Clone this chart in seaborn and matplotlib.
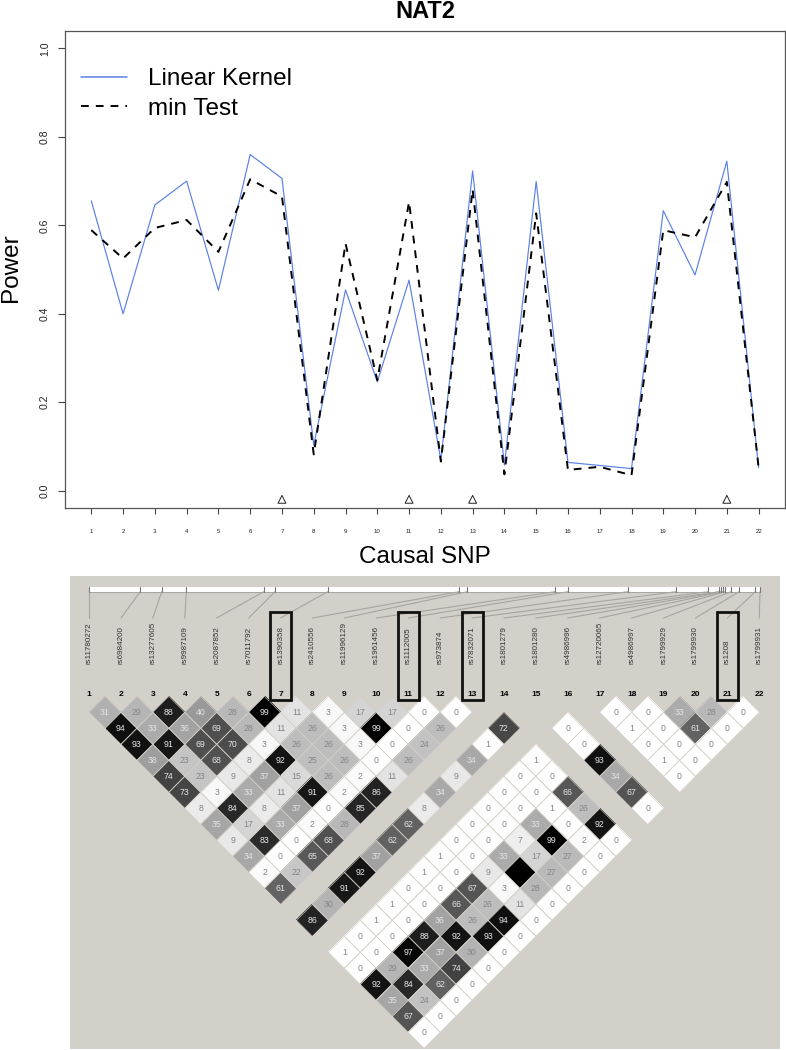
import matplotlib
matplotlib.use('Agg')
import matplotlib.pyplot as plt
from matplotlib.patches import Rectangle
from matplotlib.transforms import Affine2D
import seaborn as sns
import numpy as np

snp_index = list(range(1, 23))
linear_kernel = [0.655, 0.400, 0.646, 0.700, 0.453, 0.760, 0.706, 0.103, 0.454, 0.246, 0.476,
                 0.069, 0.723, 0.058, 0.699, 0.064, 0.057, 0.050, 0.633, 0.488, 0.745, 0.052]
min_test = [0.589, 0.525, 0.594, 0.612, 0.540, 0.704, 0.665, 0.082, 0.559, 0.250, 0.653,
            0.066, 0.681, 0.037, 0.627, 0.047, 0.054, 0.035, 0.589, 0.573, 0.698, 0.052]
marked_snps = [7, 11, 13, 21]
marker_power = [-0.0195, -0.0195, -0.0195, -0.0195]

rs_ids = ['rs11780272', 'rs6984200', 'rs13277605', 'rs9987109', 'rs2087852', 'rs7011792',
          'rs1390358', 'rs2410556', 'rs11996129', 'rs1961456', 'rs1112005', 'rs973874',
          'rs7832071', 'rs1801279', 'rs1801280', 'rs4986996', 'rs12720065', 'rs4986997',
          'rs1799929', 'rs1799930', 'rs1208', 'rs1799931']
# where each snp sits on the physical map strip (pixels along the strip)
map_ticks = [89, 140.3, 161.7, 186.3, 263.7, 275, 327.7, 459, 467.3, 555, 568, 627.7, 676, 708.3,
             719, 721, 723, 725.3, 731, 739, 755.3, 760]

# r2 values by distance between the snp pair, None = no cell. 100 = the black cell without a number
N = None
ld_d1 = [31, 29, 88, 40, 28, 99, 11, 3, 17, 17, 0, 0, N, N, N, N, 0, 0, 33, 28, 0]
ld_d2 = [94, 33, 36, 69, 28, 11, 26, 3, 99, 0, 26, N, 72, N, 0, N, 1, 0, 61, 0]
ld_d3 = [93, 91, 69, 70, 3, 26, 26, 3, 0, 24, N, 1, N, N, 0, N, 0, 0, 0]
ld_d4 = [38, 23, 68, 8, 92, 25, 26, 0, 26, N, 34, N, 1, N, 93, N, 1, 0]
ld_d5 = [74, 23, 9, 37, 15, 26, 2, 11, N, 9, N, 0, 0, N, 34, N, 0]
ld_d6 = [73, 3, 33, 11, 91, 2, 86, N, 34, N, 0, 0, 66, N, 67, N]
ld_d7 = [8, 84, 8, 37, 0, 85, N, 8, N, 0, 0, 1, 26, N, 0]
ld_d8 = [35, 17, 33, 2, 28, N, 62, N, 0, 0, 33, 0, 92, N]
ld_d9 = [9, 83, 0, 68, N, 62, N, 0, 0, 7, 99, 2, 0]
ld_d10 = [34, 0, 65, N, 37, N, 1, 0, 33, 17, 27, 0]
ld_d11 = [2, 22, N, 92, N, 1, 0, 9, 100, 27, 0]
ld_d12 = [61, N, 91, N, 0, 0, 67, 3, 28, 0]
ld_d13 = [N, 30, N, 1, 0, 66, 26, 11, 0]
ld_d14 = [86, N, 1, 0, 36, 26, 94, 0]
ld_d15 = [N, 0, 0, 88, 92, 93, 0]
ld_d16 = [1, 0, 97, 37, 30, 0]
ld_d17 = [0, 29, 33, 74, 0]
ld_d18 = [92, 84, 62, 0]
ld_d19 = [35, 24, 0]
ld_d20 = [67, 0]
ld_d21 = [0]
ld_rows = [ld_d1, ld_d2, ld_d3, ld_d4, ld_d5, ld_d6, ld_d7, ld_d8, ld_d9, ld_d10, ld_d11,
           ld_d12, ld_d13, ld_d14, ld_d15, ld_d16, ld_d17, ld_d18, ld_d19, ld_d20, ld_d21]

sns.set_style('white', {'text.color': 'black', 'axes.labelcolor': 'black'})
plt.rcParams['font.family'] = ['Liberation Sans', 'DejaVu Sans']

W, H = 786, 1050
fig = plt.figure(figsize=(W / 100, H / 100), dpi=100)

######## power plot ########
ax = fig.add_axes([65 / W, 1 - 508.3 / H, 720.3 / W, 477.6 / H])
sns.lineplot(x=snp_index, y=linear_kernel, color='#5b80e6', linewidth=0.85, label='Linear Kernel', ax=ax)
sns.lineplot(x=snp_index, y=min_test, color='black', linewidth=1.4, linestyle=(0, (4, 3.6)),
             label='min Test', ax=ax)
sns.scatterplot(x=marked_snps, y=marker_power, marker='^', s=32, facecolor='none', edgecolor='#222222',
                linewidth=0.7, ax=ax)

ax.set_xlim(0.172, 22.84)
ax.set_ylim(-0.0398, 1.04)
ax.set_xticks(snp_index)
ax.set_yticks([0, 0.2, 0.4, 0.6, 0.8, 1.0])
ax.set_yticklabels(['0.0', '0.2', '0.4', '0.6', '0.8', '1.0'], rotation=90, va='center')
ax.tick_params(axis='x', length=4.2, width=0.8, color='#444444', pad=11, labelsize=4.4, labelcolor='#222222', bottom=True)
ax.tick_params(axis='y', length=5, width=0.8, color='#444444', pad=6, labelsize=7.6, labelcolor='#222222', left=True)
for s in ax.spines.values():
    s.set_color('#555555')
    s.set_linewidth(0.9)

ax.set_title('NAT2', fontsize=17, fontweight='bold', pad=9.2)
ax.set_xlabel('Causal SNP', fontsize=17.5)
ax.xaxis.set_label_coords(0.5, -0.078)
ax.set_ylabel('Power', fontsize=17.5)
ax.yaxis.set_label_coords(-0.0595, 0.503)

leg = ax.legend(loc='upper left', bbox_to_anchor=(0.0055, 0.947), frameon=False, fontsize=17.5, handlelength=1.88,
                handletextpad=0.88, labelspacing=0.31, borderaxespad=0, borderpad=0.5)
leg.get_lines()[0].set_linewidth(1.1)

######## LD plot, drawn in pixel coords ########
ov = fig.add_axes([0, 0, 1, 1], zorder=3)
ov.patch.set_alpha(0)

ld_mat = np.full((22, 22), np.nan)
for d, row in enumerate(ld_rows, start=1):
    for i, v in enumerate(row):
        if v is not None:
            ld_mat[i, i + d] = v

sns.heatmap(ld_mat, cmap='gray_r', vmin=0, vmax=100, cbar=False, xticklabels=False, yticklabels=False, ax=ov)
ov.set_xlim(0, W)
ov.set_ylim(H, 0)
ov.axis('off')

SX, X0 = 15.96, 89
SY, Y0 = 16, 712.3
# turn the heatmap's grid 45 degrees so the cells become diamonds
mesh = ov.collections[0]
mesh.set_transform(Affine2D.from_values(SX, SY, SX, -SY, X0 - SX, Y0 - SY) + ov.transData)
mesh.set_zorder(2)

ov.add_patch(Rectangle((69.5, 576), 710, 473, facecolor='#d3cfc9', edgecolor='none', zorder=0))

for d, row in enumerate(ld_rows, start=1):
    for i, v in enumerate(row):
        if v is None:
            continue
        xc, yc = X0 + SX * (2 * i + d), Y0 + SY * (d - 1)
        # thin outline, heatmap linewidths would also outline the empty cells
        ov.plot([xc - SX, xc, xc + SX, xc, xc - SX], [yc, yc - SY, yc, yc + SY, yc], color='#d3cfc9', lw=0.5, zorder=2.5)
        if v < 100:
            ov.text(xc, yc, str(v), ha='center', va='center', fontsize=6.3,
                    color='#e4e4e4' if v > 30 else '#858585', zorder=3)

# map strip with ticks and the lines down to the labels
ov.add_patch(Rectangle((89, 586.5), 671, 5.2, facecolor='white', edgecolor='none', zorder=1))
ov.plot([89, 760], [591.9, 591.9], color='#a8a49f', lw=0.7, zorder=1)
for k, (tick, rs) in enumerate(zip(map_ticks, rs_ids)):
    xk = X0 + 2 * SX * k
    ov.plot([tick, tick], [586.5, 591.7], color='#777777', lw=0.8, zorder=2)
    ov.plot([tick, xk], [591.7, 618], color='#a8a49f', lw=0.8, zorder=1)
    ov.text(xk, 664.5, rs, rotation=90, ha='center', va='bottom', fontsize=5.8, color='#333333', zorder=3)
    ov.text(xk, 694, str(k + 1), ha='center', va='center', fontsize=6, fontweight='bold', color='black', zorder=3)

for s in marked_snps:
    xk = X0 + 2 * SX * (s - 1)
    ov.add_patch(Rectangle((xk - 10.5, 612), 21, 88, facecolor='none', edgecolor='#111111', lw=2.0, zorder=4))

plt.savefig('out.png', dpi=100)
